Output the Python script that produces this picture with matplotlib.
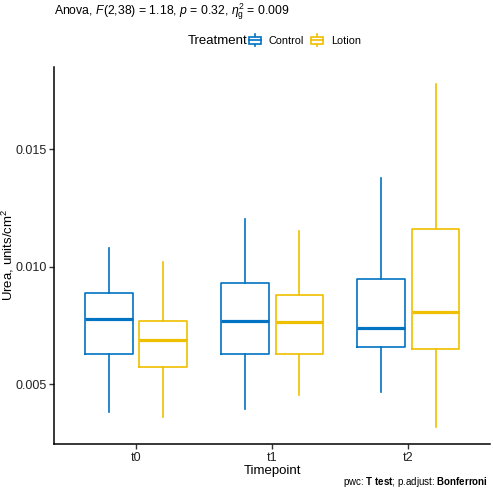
import matplotlib
matplotlib.use("Agg")
import matplotlib.pyplot as plt
from matplotlib.patches import Patch, Rectangle
from matplotlib.lines import Line2D
from matplotlib.legend_handler import HandlerBase

plt.rcParams['font.family'] = ['Liberation Sans', 'DejaVu Sans']
plt.rcParams['mathtext.fontset'] = 'custom'
plt.rcParams['mathtext.rm'] = 'Liberation Sans'
plt.rcParams['mathtext.it'] = 'Liberation Sans:italic'
plt.rcParams['mathtext.bf'] = 'Liberation Sans:bold'

# data
timepoints = ["t0", "t1", "t2"]
treatments = ["Control", "Lotion"]
colors = {"Control": "#0073C2", "Lotion": "#EFC000"}
# per timepoint: whisker low, q1, median, q3, whisker high
control_whislo = [0.00384, 0.00394, 0.00470]
control_q1 = [0.00630, 0.00630, 0.00660]
control_med = [0.00780, 0.00770, 0.00742]
control_q3 = [0.00891, 0.00931, 0.00948]
control_whishi = [0.01082, 0.01204, 0.01377]
lotion_whislo = [0.00363, 0.00455, 0.00320]
lotion_q1 = [0.00576, 0.00628, 0.00651]
lotion_med = [0.00688, 0.00767, 0.00810]
lotion_q3 = [0.00770, 0.00882, 0.01163]
lotion_whishi = [0.01023, 0.01155, 0.01779]

series = {
    "Control": (control_whislo, control_q1, control_med, control_q3, control_whishi),
    "Lotion": (lotion_whislo, lotion_q1, lotion_med, lotion_q3, lotion_whishi),
}

fig = plt.figure(figsize=(4.93, 4.91), dpi=100)
ax = fig.add_axes([54.3/493, 1-444/491, (490-54.3)/493, (444-66.7)/491])

offsets = {"Control": -0.2, "Lotion": 0.2}
for tr in treatments:
    lo, q1, med, q3, hi = series[tr]
    stats = []
    for i in range(len(timepoints)):
        stats.append({"whislo": lo[i], "q1": q1[i], "med": med[i], "q3": q3[i],
                      "whishi": hi[i], "fliers": []})
    pos = [i + 1 + offsets[tr] for i in range(len(timepoints))]
    c = colors[tr]
    ax.bxp(stats, positions=pos, widths=0.35, showcaps=False, showfliers=False,
           boxprops=dict(color=c, lw=1.2),
           whiskerprops=dict(color=c, lw=1.2),
           medianprops=dict(color=c, lw=2.3, solid_capstyle='butt'),
           manage_ticks=False)

ax.set_xlim(0.4, 3.6)
ax.set_ylim(0.002468, 0.018523)
ax.set_xticks([1, 2, 3])
ax.set_xticklabels(timepoints)
ax.set_yticks([0.005, 0.010, 0.015])
ax.set_yticklabels(["0.005", "0.010", "0.015"])
for s in ["top", "right"]:
    ax.spines[s].set_visible(False)
for s in ["left", "bottom"]:
    ax.spines[s].set_linewidth(1.1)
    ax.spines[s].set_color("black")
ax.tick_params(length=3.5, width=1, color="#333333", labelsize=9, labelcolor="#222222", pad=2)
ax.set_xlabel("Timepoint", fontsize=9.5, labelpad=1)
ax.set_ylabel("Urea, units/cm$^2$", fontsize=9.5)
ax.yaxis.set_label_coords((16 - 54.3) / 435.7, 0.5)

fig.text(54.3/493, 1-12/491,
         r"Anova, $\mathit{F}$(2,38) = 1.18, $\mathit{p}$ = 0.32, $\eta^2_\mathrm{g}$ = 0.009",
         fontsize=8.8, va="center", ha="left")
fig.text(488/493, 1-482/491,
         r"pwc: $\mathbf{T\ test}$; p.adjust: $\mathbf{Bonferroni}$",
         fontsize=7, va="center", ha="right")


class BoxHandler(HandlerBase):
    def create_artists(self, legend, orig_handle, xdescent, ydescent, width, height, fontsize, trans):
        c = orig_handle.get_edgecolor()
        cx = width / 2 - xdescent
        bh = height * 0.8
        by = (height - bh) / 2 - ydescent
        wl = Line2D([cx, cx], [-ydescent - height * 0.2, height * 1.2 - ydescent], color=c, lw=1.2, transform=trans)
        r = Rectangle((-xdescent, by), width, bh, facecolor="white", edgecolor=c, lw=1.2, transform=trans)
        m = Line2D([-xdescent, width - xdescent], [height / 2 - ydescent] * 2, color=c, lw=1.2, transform=trans)
        return [wl, r, m]


handles = [Patch(edgecolor=colors[t], facecolor="white") for t in treatments]
fig.text(188/493, 1-41/491, "Treatment", fontsize=9.5, va="center", ha="left")
fig.legend(handles, treatments, handler_map={Patch: BoxHandler()},
           loc="center left", bbox_to_anchor=(249/493, 1-41/491), ncol=2, frameon=False,
           fontsize=7.8, handlelength=1.1, handleheight=0.8, handletextpad=0.7,
           columnspacing=0.7, borderpad=0, borderaxespad=0)

fig.savefig("out.png", dpi=100)
